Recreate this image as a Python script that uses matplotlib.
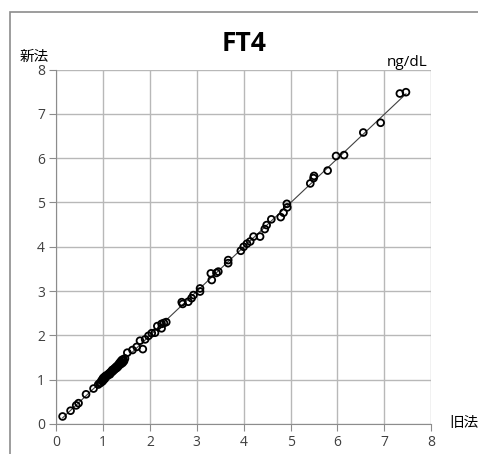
import numpy as np
import matplotlib.pyplot as plt
from matplotlib.patches import Rectangle

# 旧法 (x) vs 新法 (y), FT4 ng/dL
old = [0.14, 0.31, 0.43, 0.48, 0.64, 0.80, 0.90, 0.93,
       0.95, 0.97, 0.99, 1.00, 1.01, 1.02, 1.04, 1.05, 1.06, 1.08, 1.10,
       1.12, 1.14, 1.15, 1.17, 1.19, 1.20, 1.22, 1.24, 1.25, 1.27, 1.29,
       1.30, 1.32, 1.34, 1.35, 1.37, 1.38, 1.40, 1.42, 1.43, 1.45, 1.47,
       1.52, 1.63, 1.72, 1.79, 1.85, 1.90, 1.97, 2.04, 2.11, 2.16, 2.25,
       2.25, 2.30, 2.35, 2.68, 2.70, 2.82, 2.89, 2.93, 3.07, 3.07, 3.30,
       3.32, 3.42, 3.46, 3.67, 3.67, 3.94, 4.00, 4.07, 4.14, 4.21, 4.35,
       4.45, 4.49, 4.59, 4.79, 4.85, 4.92, 4.93, 5.42, 5.49, 5.50, 5.79,
       5.97, 6.14, 6.55, 6.92, 7.33, 7.46]
new = [0.17, 0.30, 0.42, 0.47, 0.67, 0.80, 0.89, 0.92,
       0.93, 0.98, 0.96, 1.03, 0.99, 1.05, 1.02, 1.08, 1.06, 1.10, 1.09,
       1.13, 1.15, 1.12, 1.18, 1.17, 1.22, 1.20, 1.25, 1.23, 1.28, 1.26,
       1.31, 1.29, 1.36, 1.33, 1.40, 1.35, 1.44, 1.38, 1.46, 1.42, 1.48,
       1.61, 1.67, 1.74, 1.88, 1.69, 1.91, 1.99, 2.05, 2.06, 2.21, 2.26,
       2.16, 2.28, 2.30, 2.75, 2.71, 2.76, 2.84, 2.91, 3.06, 2.99, 3.40,
       3.25, 3.41, 3.44, 3.70, 3.63, 3.91, 4.00, 4.07, 4.12, 4.23, 4.23,
       4.40, 4.49, 4.62, 4.67, 4.77, 4.97, 4.89, 5.43, 5.55, 5.60, 5.72,
       6.05, 6.07, 6.58, 6.80, 7.46, 7.49]

x = np.array(old)
y = np.array(new)
slope, icpt = np.polyfit(x, y, 1)
xl = np.array([x.min(), x.max()])

plt.rcParams['font.family'] = ['Noto Sans CJK JP', 'DejaVu Sans']

fig = plt.figure(figsize=(4.78, 4.54), dpi=100)
ax = fig.add_axes([0.1172, 0.0661, 0.7851, 0.7806])

# chart frame (cropped in the reference)
fig.patches.append(Rectangle((10 / 478, -0.1), 1.2, 1 - 12 / 454 + 0.1,
                             transform=fig.transFigure, fill=False,
                             edgecolor='#8c8c8c', linewidth=1.2))

ax.plot(xl, slope * xl + icpt, color='#404040', linewidth=0.8, zorder=2)
ax.scatter(x, y, s=24, facecolors='none', edgecolors='black',
           linewidths=1.3, zorder=3)

ax.set_xlim(0, 8)
ax.set_ylim(0, 8)
ax.set_xticks(range(9))
ax.set_yticks(range(9))
ax.grid(True, color='#b8b8b8', linewidth=1.0)
ax.set_axisbelow(True)
for s in ['top', 'right']:
    ax.spines[s].set_visible(False)
for s in ['left', 'bottom']:
    ax.spines[s].set_color('#8c8c8c')
ax.tick_params(colors='#8c8c8c', labelcolor='#404040', labelsize=10,
               length=5, direction='out', pad=3)
for lab in ax.get_xticklabels() + ax.get_yticklabels():
    lab.set_family('Open Sans')

fig.text(0.51, 0.905, 'FT4', ha='center', va='center', fontsize=19,
         fontweight='bold', family='Open Sans')
fig.text(0.042, 0.875, '新法', ha='left', va='center', fontsize=10.5)
fig.text(0.895, 0.862, 'ng/dL', ha='right', va='center', fontsize=11,
         family='Open Sans')
fig.text(0.94, 0.068, '旧法', ha='left', va='center', fontsize=10.5)

fig.savefig('out.png', dpi=100)
